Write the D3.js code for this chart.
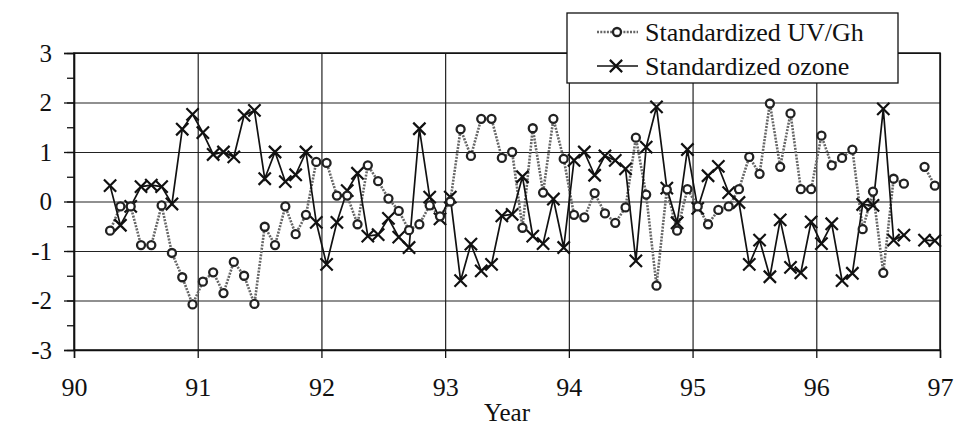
<!DOCTYPE html>
<html>
<head>
<meta charset="utf-8">
<script src="https://cdn.jsdelivr.net/npm/d3@7"></script>
<style>
  body { margin: 0; background: #fff; }
  svg text { font-family: "Liberation Serif", "Times New Roman", serif; fill: #111; }
</style>
</head>
<body>
<svg id="chart" width="965" height="430"></svg>
<script>
// monthly samples, Apr 1990 .. Dec 1996
const months = [
  "1990-04","1990-05","1990-06","1990-07","1990-08","1990-09","1990-10","1990-11","1990-12",
  "1991-01","1991-02","1991-03","1991-04","1991-05","1991-06","1991-07","1991-08","1991-09","1991-10","1991-11","1991-12",
  "1992-01","1992-02","1992-03","1992-04","1992-05","1992-06","1992-07","1992-08","1992-09","1992-10","1992-11","1992-12",
  "1993-01","1993-02","1993-03","1993-04","1993-05","1993-06","1993-07","1993-08","1993-09","1993-10","1993-11","1993-12",
  "1994-01","1994-02","1994-03","1994-04","1994-05","1994-06","1994-07","1994-08","1994-09","1994-10","1994-11","1994-12",
  "1995-01","1995-02","1995-03","1995-04","1995-05","1995-06","1995-07","1995-08","1995-09","1995-10","1995-11","1995-12",
  "1996-01","1996-02","1996-03","1996-04","1996-05","1996-06","1996-07","1996-08","1996-09","1996-10","1996-11","1996-12"
];

const uvGh = [
  -0.59, -0.10, -0.10, -0.88, -0.88, -0.08, -1.04, -1.53, -2.08,
  -1.62, -1.43, -1.85, -1.22, -1.50, -2.07, -0.51, -0.88, -0.10, -0.66, -0.27, 0.80,
  0.78, 0.12, 0.12, -0.46, 0.73, 0.41, 0.06, -0.19, -0.58, -0.46, -0.08, -0.30,
  0.00, 1.46, 0.92, 1.67, 1.67, 0.88, 1.00, -0.53, 1.48, 0.18, 1.67, 0.86,
  -0.27, -0.32, 0.17, -0.24, -0.43, -0.12, 1.29, 0.14, -1.70, 0.24, -0.59, 0.25,
  -0.10, -0.46, -0.17, -0.10, 0.25, 0.90, 0.56, 1.98, 0.70, 1.78, 0.25, 0.25,
  1.33, 0.73, 0.88, 1.05, -0.56, 0.20, -1.44, 0.46, 0.36, null, 0.70, 0.32
];

const ozone = [
  0.32, -0.48, -0.10, 0.30, 0.33, 0.30, -0.05, 1.46, 1.76,
  1.39, 0.95, 1.00, 0.90, 1.74, 1.84, 0.46, 1.00, 0.40, 0.54, 1.00, -0.42,
  -1.27, -0.42, 0.22, 0.57, -0.70, -0.67, -0.34, -0.72, -0.93, 1.47, 0.09, -0.35,
  0.09, -1.60, -0.86, -1.40, -1.27, -0.29, -0.26, 0.50, -0.70, -0.85, 0.05, -0.93,
  0.83, 1.00, 0.53, 0.92, 0.83, 0.66, -1.20, 1.10, 1.91, 0.27, -0.43, 1.05,
  -0.14, 0.52, 0.71, 0.18, -0.02, -1.27, -0.78, -1.52, -0.37, -1.33, -1.44, -0.41,
  -0.85, -0.45, -1.60, -1.45, -0.06, -0.08, 1.87, -0.78, -0.68, null, -0.78, -0.79
];

const xTicks = [90, 91, 92, 93, 94, 95, 96, 97];
const yTicks = [-3, -2, -1, 0, 1, 2, 3];
const seriesNames = ["Standardized UV/Gh", "Standardized ozone"];

const parseMonth = d3.timeParse("%Y-%m");
const toYear = s => {
  const d = parseMonth(s);
  return d.getFullYear() - 1900 + (d.getMonth() + 0.5) / 12;
};

const margin = { top: 53, right: 25, bottom: 80, left: 74 };
const W = 965, H = 430;
const plain = d => String(d);   // hyphen minus like the original, not U+2212

const svg = d3.select('#chart');

const x = d3.scaleLinear().domain([90, 97]).range([margin.left, W - margin.right]);
const y = d3.scaleLinear().domain([-3, 3]).range([H - margin.bottom, margin.top]);

//grid
svg.append('g')
  .attr('transform', `translate(0,${H - margin.bottom})`)
  .call(d3.axisBottom(x).tickValues(xTicks).tickSize(-(H - margin.bottom - margin.top)).tickFormat(''))
  .call(g => g.select('.domain').remove())
  .call(g => g.selectAll('line').attr('stroke', '#222').attr('stroke-width', 1.2));

svg.append('g')
  .attr('transform', `translate(${margin.left},0)`)
  .call(d3.axisLeft(y).tickValues(yTicks).tickSize(-(W - margin.right - margin.left)).tickFormat(''))
  .call(g => g.select('.domain').remove())
  .call(g => g.selectAll('line').attr('stroke', '#222').attr('stroke-width', 1.2));

//frame
svg.append('rect')
  .attr('x', margin.left).attr('y', margin.top)
  .attr('width', W - margin.right - margin.left)
  .attr('height', H - margin.bottom - margin.top)
  .attr('fill', 'none').attr('stroke', '#111').attr('stroke-width', 1.5);

//axes
const yMinor = d3.range(-3, 3.01, 0.5);
svg.append('g')
  .attr('transform', `translate(${margin.left},0)`)
  .call(d3.axisLeft(y).tickValues(yMinor).tickSize(7).tickFormat(''))
  .call(g => g.selectAll('line').attr('stroke', '#111').attr('stroke-width', 1.3))
  .call(g => g.select('.domain').remove());

svg.append('g')
  .attr('transform', `translate(${margin.left},0)`)
  .call(d3.axisLeft(y).tickValues(yTicks).tickSize(10).tickPadding(12).tickFormat(plain))
  .call(g => g.select('.domain').attr('stroke', '#111').attr('stroke-width', 1.5))
  .call(g => g.selectAll('line').attr('stroke', '#111').attr('stroke-width', 1.3))
  .call(g => g.selectAll('text').attr('font-size', 25).attr('fill', '#111'));

svg.append('g')
  .attr('transform', `translate(0,${H - margin.bottom})`)
  .call(d3.axisBottom(x).tickValues(xTicks).tickSize(8).tickPadding(20).tickFormat(plain))
  .call(g => g.select('.domain').attr('stroke', '#111').attr('stroke-width', 1.5))
  .call(g => g.selectAll('line').attr('stroke', '#111').attr('stroke-width', 1.3))
  .call(g => g.selectAll('text').attr('font-size', 26).attr('fill', '#111'));

svg.append('text')
  .attr('x', x(93.5)).attr('y', 421)
  .attr('text-anchor', 'middle')
  .attr('font-size', 25)
  .text('Year');

//series
const uvData = months.map((m, i) => ({ t: toYear(m), v: uvGh[i] }));
const ozData = months.map((m, i) => ({ t: toYear(m), v: ozone[i] }));

const line = d3.line()
  .defined(d => d.v != null)
  .x(d => x(d.t))
  .y(d => y(d.v));

svg.append('path')
  .datum(uvData)
  .attr('fill', 'none')
  .attr('stroke', '#666')
  .attr('stroke-width', 2.6)
  .attr('stroke-dasharray', '2,1.3')
  .attr('d', line);

svg.append('path')
  .datum(ozData)
  .attr('fill', 'none')
  .attr('stroke', '#111')
  .attr('stroke-width', 1.7)
  .attr('d', line);

const xMark = d3.symbol().type(d3.symbolX).size(100);

svg.append('g').selectAll('path')
  .data(ozData.filter(d => d.v != null))
  .join('path')
  .attr('transform', d => `translate(${x(d.t)},${y(d.v)})`)
  .attr('d', xMark)
  .attr('fill', 'none')
  .attr('stroke', '#111')
  .attr('stroke-width', 2.2);

svg.append('g').selectAll('circle')
  .data(uvData.filter(d => d.v != null))
  .join('circle')
  .attr('cx', d => x(d.t))
  .attr('cy', d => y(d.v))
  .attr('r', 4)
  .attr('fill', '#fff')
  .attr('stroke', '#222')
  .attr('stroke-width', 2.3);

//legend
const lg = svg.append('g');
lg.append('rect')
  .attr('x', 567).attr('y', 13).attr('width', 331).attr('height', 70)
  .attr('fill', '#fff').attr('stroke', '#111').attr('stroke-width', 1.3);

const rows = [
  { name: seriesNames[0], y: 32 },
  { name: seriesNames[1], y: 66 }
];

lg.append('line')
  .attr('x1', 597).attr('x2', 638).attr('y1', rows[0].y).attr('y2', rows[0].y)
  .attr('stroke', '#666').attr('stroke-width', 2.6).attr('stroke-dasharray', '2,1.3');
lg.append('circle')
  .attr('cx', 617).attr('cy', rows[0].y).attr('r', 4)
  .attr('fill', '#fff').attr('stroke', '#222').attr('stroke-width', 2.3);

lg.append('line')
  .attr('x1', 597).attr('x2', 638).attr('y1', rows[1].y).attr('y2', rows[1].y)
  .attr('stroke', '#111').attr('stroke-width', 1.7);
lg.append('path')
  .attr('transform', `translate(616,${rows[1].y})`)
  .attr('d', xMark)
  .attr('fill', 'none').attr('stroke', '#111').attr('stroke-width', 2.2);

lg.selectAll('text.lbl')
  .data(rows)
  .join('text')
  .attr('class', 'lbl')
  .attr('x', 645)
  .attr('y', d => d.y + 9)
  .attr('font-size', 26)
  .text(d => d.name);
</script>
</body>
</html>
